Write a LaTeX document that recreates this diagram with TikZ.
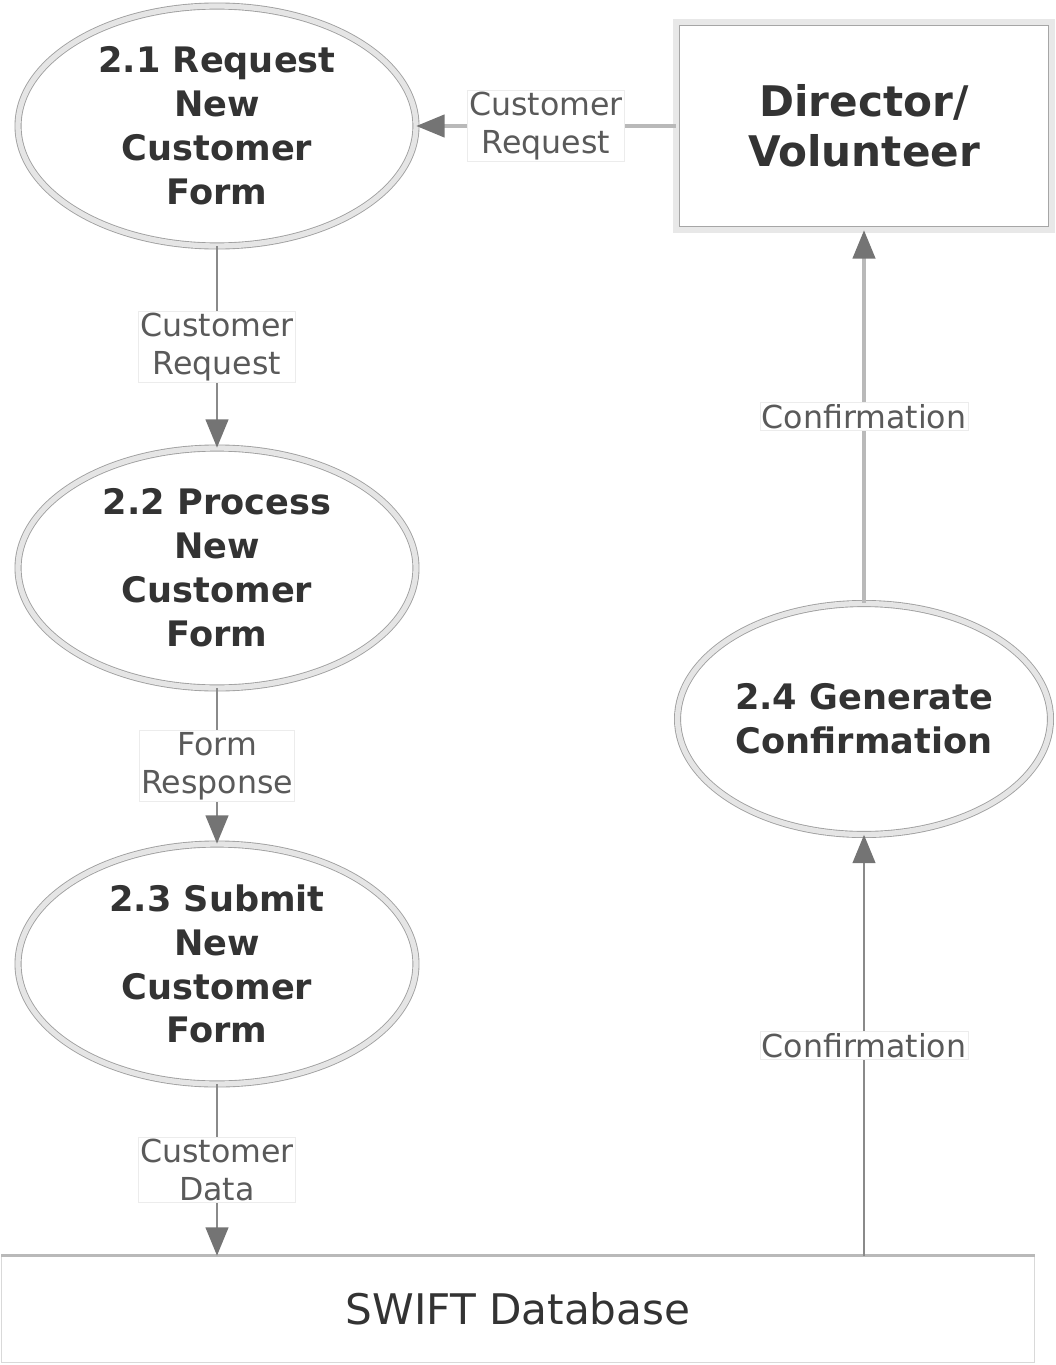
\documentclass[tikz,border=0pt]{standalone}
\usepackage{fontspec}
\setmainfont{DejaVu Sans}
\usetikzlibrary{shapes.geometric,arrows.meta}

\definecolor{flowgray}{HTML}{8A8A8A}
\definecolor{headgray}{HTML}{747474}
\definecolor{textdark}{HTML}{333333}
\definecolor{textlabel}{HTML}{5A5A5A}

\tikzset{
    process/.style = {ellipse, inner sep=0pt, align=center,
        draw=gray!75, line width=0.5pt, double=gray!20, double distance=3pt,
        font=\fontsize{20}{25}\selectfont\bfseries, text=textdark},
    entity/.style = {rectangle, inner sep=0pt, align=center,
        draw=gray!70, line width=0.5pt, double=gray!18, double distance=3pt,
        minimum width=7.52cm, minimum height=4.16cm,
        font=\fontsize{24}{28.5}\selectfont\bfseries, text=textdark},
    store/.style = {rectangle, inner sep=0pt, draw=gray!30, line width=0.5pt,
        minimum width=20.66cm, minimum height=2.12cm,
        font=\fontsize{24}{28}\selectfont, text=textdark},
    flowlabel/.style = {fill=white, draw=gray!15, line width=0.4pt,
        inner sep=1pt, align=center,
        font=\fontsize{18}{21.5}\selectfont, text=textlabel},
    flow/.style = {draw=flowgray, line width=0.8pt,
        -{Triangle[length=16pt,width=13pt,color=headgray,fill=headgray,line width=0.8pt]}},
    flowwide/.style = {flow, line width=2pt, draw=gray!55}
}

\begin{document}
\begin{tikzpicture}[x=0.02cm, y=-0.02cm]
    \useasboundingbox (0,0) rectangle (1055,1365);

    %% processes
    \node [process, minimum width=7.96cm, minimum height=4.8cm]
        (p1) at (217,126) {2.1 Request\\New\\Customer\\Form};
    \node [process, minimum width=7.96cm, minimum height=4.8cm]
        (p2) at (217,568) {2.2 Process\\New\\Customer\\Form};
    \node [process, minimum width=7.96cm, minimum height=4.8cm]
        (p3) at (217,964) {2.3 Submit\\New\\Customer\\Form};
    \node [process, minimum width=7.46cm, minimum height=4.62cm]
        (p4) at (864,719) {2.4 Generate\\Confirmation};

    %% external entity and data store
    \node [entity] (director) at (864,126) {Director/\\Volunteer};
    \node [store] (swift) at (518,1309) {SWIFT Database};
    \draw [gray!55, line width=1.5pt] (swift.north west) -- (swift.north east);

    %% flows
    \draw [flowwide] (director) -- node [flowlabel] {Customer\\Request} (p1);
    \draw [flow] (p1) -- node [flowlabel] {Customer\\Request} (p2);
    \draw [flow] (p2) -- node [flowlabel] {Form\\Response} (p3);
    \draw [flow] (p3) -- node [flowlabel] {Customer\\Data} (p3 |- swift.north);
    \draw [flow] (p4 |- swift.north) -- node [flowlabel] {Confirmation} (p4);
    \draw [flowwide] (p4) -- node [flowlabel] {Confirmation} (director);
\end{tikzpicture}
\end{document}
